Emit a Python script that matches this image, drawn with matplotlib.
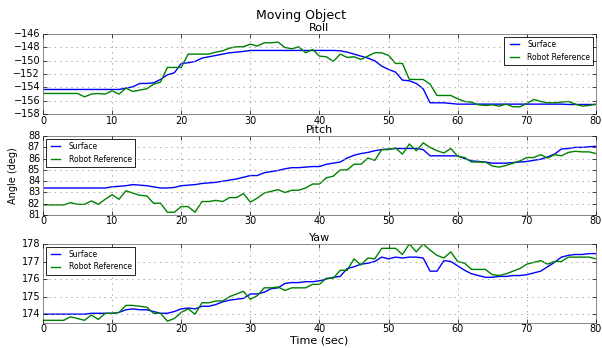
import matplotlib
matplotlib.use("Agg")
import matplotlib.pyplot as plt
from matplotlib.ticker import MultipleLocator

time = list(range(81))

roll_surface = [
    -154.3, -154.3, -154.3, -154.3, -154.3, -154.3, -154.3, -154.3, -154.3, -154.3,
    -154.3, -154.3, -154.1, -153.9, -153.4, -153.4, -153.3, -152.8, -152.1, -151.8,
    -150.4, -150.3, -150.1, -149.6, -149.4, -149.2, -149.0, -148.8, -148.7, -148.6,
    -148.45, -148.45, -148.45, -148.45, -148.45, -148.45, -148.45, -148.45, -148.45, -148.45,
    -148.45, -148.45, -148.45, -148.5, -148.7, -149.0, -149.3, -149.6, -150.0, -150.8,
    -151.3, -151.7, -152.9, -153.0, -153.4, -154.2, -156.3, -156.3, -156.3, -156.4,
    -156.5, -156.5, -156.5, -156.5, -156.5, -156.5, -156.5, -156.5, -156.5, -156.5,
    -156.5, -156.5, -156.5, -156.5, -156.5, -156.5, -156.55, -156.55, -156.55, -156.55,
    -156.55,
]
roll_robot = [
    -154.9, -154.9, -154.9, -154.9, -154.9, -154.9, -155.4, -155.0, -154.9, -155.0,
    -154.5, -155.0, -154.1, -154.6, -154.4, -154.2, -153.5, -153.2, -151.0, -151.0,
    -151.0, -149.0, -149.0, -149.0, -149.0, -148.7, -148.5, -148.1, -147.9, -147.9,
    -147.5, -147.8, -147.3, -147.3, -147.2, -148.0, -148.2, -147.9, -148.8, -148.3,
    -149.3, -149.4, -150.1, -149.0, -149.5, -149.4, -149.8, -149.3, -148.8, -148.8,
    -149.2, -150.4, -150.4, -152.8, -152.8, -152.8, -153.5, -155.2, -155.2, -155.2,
    -155.7, -156.1, -156.2, -156.6, -156.7, -156.6, -156.8, -156.5, -156.9, -156.9,
    -156.4, -155.8, -156.1, -156.3, -156.3, -156.2, -156.1, -156.5, -156.8, -156.7,
    -156.5,
]

pitch_surface = [
    83.4, 83.4, 83.4, 83.4, 83.4, 83.4, 83.4, 83.4, 83.4, 83.4,
    83.5, 83.55, 83.6, 83.7, 83.65, 83.6, 83.5, 83.4, 83.4, 83.45,
    83.6, 83.65, 83.7, 83.8, 83.85, 83.9, 84.0, 84.1, 84.2, 84.35,
    84.5, 84.5, 84.75, 84.85, 84.95, 85.1, 85.2, 85.2, 85.25, 85.3,
    85.3, 85.5, 85.6, 85.7, 86.05, 86.3, 86.45, 86.55, 86.7, 86.8,
    86.85, 86.9, 86.9, 86.9, 86.9, 86.8, 86.25, 86.25, 86.25, 86.25,
    86.25, 86.0, 85.8, 85.75, 85.7, 85.6, 85.6, 85.6, 85.65, 85.7,
    85.75, 85.85, 85.95, 86.15, 86.4, 86.85, 86.9, 87.0, 87.0, 87.05,
    87.1,
]
pitch_robot = [
    81.9, 81.9, 81.9, 81.9, 82.1, 81.95, 81.95, 82.25, 81.95, 82.4,
    82.8, 82.4, 83.15, 82.95, 82.75, 82.7, 82.05, 82.05, 81.25, 81.25,
    81.75, 81.75, 81.25, 82.2, 82.2, 82.3, 82.2, 82.55, 82.55, 82.9,
    82.15, 82.5, 82.95, 83.1, 83.25, 83.0, 83.2, 83.2, 83.4, 83.75,
    83.75, 84.3, 84.45, 85.0, 85.0, 85.5, 85.5, 86.05, 85.85, 86.8,
    86.8, 86.95, 86.4, 87.3, 86.7, 87.4, 87.0, 86.7, 86.5, 86.9,
    86.2, 86.1, 85.7, 85.7, 85.7, 85.35, 85.25, 85.4, 85.6, 85.8,
    86.1, 86.1, 86.35, 86.05, 86.35, 86.25, 86.55, 86.65, 86.6, 86.6,
    86.45,
]

yaw_surface = [
    174.0, 174.0, 174.0, 174.0, 174.0, 174.0, 174.0, 174.05, 174.05, 174.05,
    174.05, 174.1, 174.25, 174.3, 174.25, 174.25, 174.15, 174.05, 174.05, 174.15,
    174.3, 174.35, 174.3, 174.45, 174.45, 174.55, 174.7, 174.8, 174.85, 174.9,
    175.15, 175.15, 175.25, 175.45, 175.5, 175.75, 175.8, 175.8, 175.85, 175.85,
    175.9, 176.0, 176.1, 176.15, 176.6, 176.7, 176.85, 176.9, 177.0, 177.25,
    177.15, 177.25, 177.2, 177.25, 177.25, 177.2, 176.45, 176.45, 177.05, 177.0,
    176.75, 176.5, 176.3, 176.2, 176.1, 176.1, 176.15, 176.15, 176.2, 176.2,
    176.25, 176.35, 176.45, 176.7, 176.95, 177.25, 177.35, 177.4, 177.4, 177.45,
    177.45,
]
yaw_robot = [
    173.65, 173.65, 173.65, 173.65, 173.85, 173.75, 173.65, 173.95, 173.7, 174.05,
    174.05, 174.1, 174.5, 174.5, 174.45, 174.4, 174.05, 174.05, 173.6, 173.75,
    174.1, 174.3, 174.0, 174.65, 174.65, 174.75, 174.75, 175.0, 175.15, 175.3,
    174.85, 175.05, 175.5, 175.5, 175.55, 175.35, 175.5, 175.5, 175.5, 175.7,
    175.7, 176.05, 176.05, 176.5, 176.5, 177.15, 176.8, 177.2, 177.15, 177.75,
    177.75, 177.75, 177.4, 178.0, 177.55, 178.0, 177.65, 177.35, 177.2, 177.55,
    177.0, 176.9, 176.55, 176.55, 176.55, 176.25, 176.2, 176.3, 176.45, 176.6,
    176.85, 176.95, 177.05, 176.85, 177.0, 177.0, 177.25, 177.25, 177.25, 177.25,
    177.15,
]

plt.style.use('classic')
plt.rcParams['font.family'] = 'DejaVu Sans'

fig = plt.figure(figsize=(6.02, 3.48), dpi=100)
fig.patch.set_facecolor('white')

# axes boxes [left, bottom, width, height] in figure fractions
boxes = [
    [0.0714, 0.672, 0.9186, 0.230],
    [0.0714, 0.382, 0.9186, 0.227],
    [0.0714, 0.072, 0.9186, 0.227],
]
panels = [
    ('Roll', roll_surface, roll_robot, (-158, -146), 2, 'upper right'),
    ('Pitch', pitch_surface, pitch_robot, (81, 88), 1, 'upper left'),
    ('Yaw', yaw_surface, yaw_robot, (173.5, 178), 1, 'upper left'),
]

axes = []
for box, (name, surf, robot, ylim, step, loc) in zip(boxes, panels):
    ax = fig.add_axes(box)
    ax.plot(time, surf, color='b', lw=1.0, label='Surface')
    ax.plot(time, robot, color='g', lw=1.0, label='Robot Reference')
    ax.set_xlim(0, 80)
    ax.set_ylim(*ylim)
    ax.yaxis.set_major_locator(MultipleLocator(step))
    ax.yaxis.get_major_formatter().set_useOffset(False)
    ax.set_title(name, fontsize=8, pad=2)
    ax.grid(True, color='0.6', linestyle=':', lw=0.6)
    ax.tick_params(labelsize=7, length=3)
    ax.tick_params(axis='x', pad=1)
    ax.tick_params(axis='y', pad=2)
    leg = ax.legend(loc=loc, fontsize=5.5, frameon=True, fancybox=False,
                    handlelength=1.8, borderaxespad=0.35)
    leg.get_frame().set_linewidth(0.6)
    for s in ax.spines.values():
        s.set_linewidth(0.6)
        s.set_color('0.45')
    axes.append(ax)

axes[1].set_ylabel('Angle (deg)', fontsize=7, labelpad=7)
axes[2].set_xlabel('Time (sec)', fontsize=8, labelpad=1)
fig.suptitle('Moving Object', fontsize=9, y=0.975)

fig.savefig('out.png', dpi=100, facecolor='white')
